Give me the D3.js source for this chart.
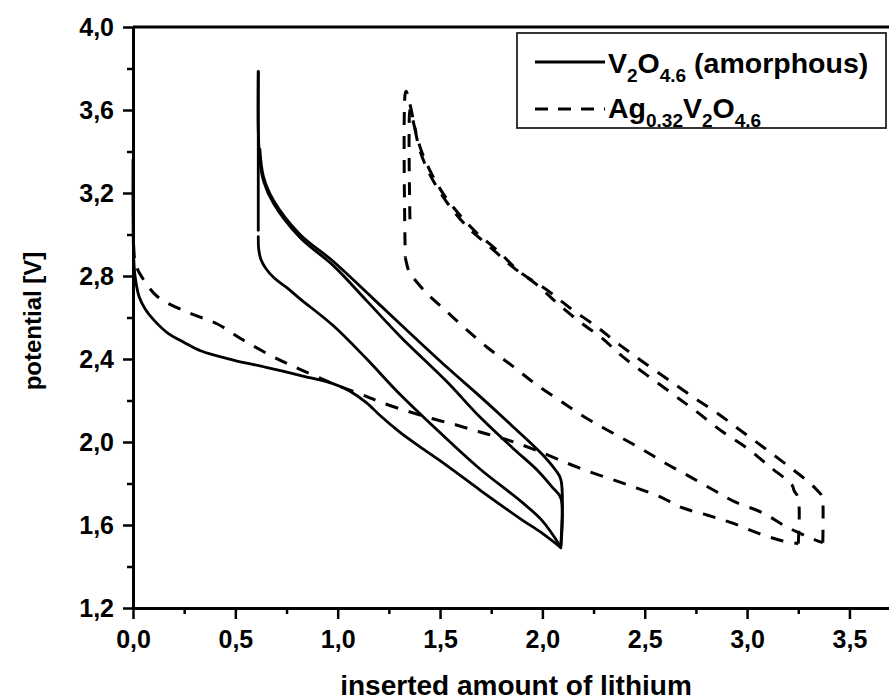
<!DOCTYPE html>
<html><head><meta charset="utf-8">
<script src="https://cdn.jsdelivr.net/npm/d3@7"></script>
<style>
body{margin:0;background:#fff}
svg{display:block}
text{font-family:"Liberation Sans",Arial,Helvetica,sans-serif;font-weight:bold;fill:#000}
</style>
</head><body>
<svg id="chart" width="889" height="700"></svg>
<script>
// ---- data ----
const xTicks = [0, 0.5, 1.0, 1.5, 2.0, 2.5, 3.0, 3.5];
const xMinorTicks = [0.25, 0.75, 1.25, 1.75, 2.25, 2.75, 3.25, 3.75];
const yTicks = [1.2, 1.6, 2.0, 2.4, 2.8, 3.2, 3.6, 4.0];
const yMinorTicks = [1.4, 1.8, 2.2, 2.6, 3.0, 3.4, 3.8];
const xLabel = "inserted amount of lithium";
const yLabel = "potential [V]";

// V2O4.6 (amorphous) — solid
const v2oFirstDischarge = [[0,3.36],[0,3.1],[0.003,2.9],[0.01,2.8],[0.03,2.70],[0.06,2.64],[0.1,2.59],[0.17,2.525],[0.25,2.48],[0.33,2.44],[0.49,2.395],[0.65,2.36],[0.82,2.32],[0.98,2.28],[1.06,2.245],[1.14,2.19],[1.21,2.125],[1.30,2.05],[1.39,1.985],[1.5,1.91],[1.7,1.765],[1.9,1.625],[2.0,1.56],[2.086,1.495]];
const v2oChargeLower = [[2.09,1.49],[2.09,1.73],[2.05,1.78],[1.974,1.865],[1.856,1.97],[1.695,2.12],[1.534,2.29],[1.304,2.51],[1.142,2.68],[0.979,2.85],[0.816,2.985],[0.686,3.15],[0.637,3.26],[0.62,3.36],[0.612,3.5],[0.612,3.785]];
const v2oVertical = [[0.612,3.785],[0.612,3.02]];
const v2oSecondDischarge = [[0.612,2.99],[0.614,2.93],[0.625,2.88],[0.65,2.835],[0.69,2.79],[0.75,2.745],[0.816,2.69],[0.979,2.56],[1.142,2.40],[1.304,2.23],[1.549,2.0],[1.695,1.87],[1.9,1.71],[2.0,1.62],[2.086,1.50]];
const v2oChargeUpper = [[2.09,1.50],[2.09,1.82],[2.06,1.87],[2.0,1.94],[1.85,2.08],[1.695,2.22],[1.534,2.36],[1.304,2.57],[1.142,2.72],[0.979,2.87],[0.816,3.00],[0.686,3.165],[0.637,3.28],[0.62,3.41]];

// Ag0.32V2O4.6 — dashed
const agFirstDischarge = [[0.003,2.95],[0.008,2.88],[0.015,2.85],[0.034,2.81],[0.12,2.70],[0.28,2.62],[0.41,2.57],[0.54,2.49],[0.686,2.41],[0.816,2.35],[0.98,2.28],[1.14,2.22],[1.207,2.193],[1.32,2.155],[1.45,2.116],[1.58,2.082],[1.695,2.048],[1.83,2.01],[1.97,1.96],[2.18,1.875],[2.462,1.778],[2.589,1.730],[2.672,1.687],[2.804,1.648],[2.926,1.610],[3.053,1.561],[3.175,1.523],[3.25,1.51]];
const agChargeLower = [[3.25,1.51],[3.25,1.73],[3.23,1.765],[3.219,1.793],[3.112,1.880],[2.999,1.971],[2.882,2.048],[2.755,2.145],[2.623,2.241],[2.394,2.410],[2.291,2.501],[2.184,2.578],[2.071,2.670],[1.974,2.757],[1.856,2.843],[1.744,2.940],[1.63,3.04],[1.53,3.16],[1.45,3.29],[1.40,3.41],[1.37,3.55],[1.35,3.64],[1.335,3.69],[1.33,3.68],[1.33,2.89]];
const agSecondDischarge = [[1.33,2.89],[1.345,2.83],[1.353,2.813],[1.435,2.717],[1.524,2.636],[1.622,2.548],[1.736,2.452],[1.858,2.363],[1.972,2.275],[2.094,2.194],[2.216,2.114],[2.346,2.042],[2.477,1.971],[2.599,1.899],[2.731,1.827],[2.853,1.759],[2.941,1.711],[3.073,1.660],[3.195,1.590],[3.322,1.533],[3.37,1.515]];
const agChargeUpper = [[3.37,1.515],[3.37,1.72],[3.366,1.74],[3.34,1.77],[3.307,1.802],[3.195,1.889],[3.078,1.976],[2.965,2.058],[2.853,2.140],[2.721,2.227],[2.379,2.467],[2.267,2.554],[2.135,2.646],[2.022,2.733],[1.891,2.819],[1.778,2.925],[1.680,3.007],[1.60,3.09],[1.52,3.19],[1.46,3.29],[1.41,3.40],[1.38,3.50],[1.36,3.58],[1.353,3.60],[1.353,3.07]];

const solidCurves = [v2oFirstDischarge, v2oChargeLower, v2oVertical, v2oSecondDischarge, v2oChargeUpper];
const dashedCurves = [agFirstDischarge, agChargeLower, agSecondDischarge, agChargeUpper];

// ---- drawing ----
const svg = d3.select("#chart");
const x = d3.scaleLinear().domain([0, 3.75]).range([133, 900.6]);
const y = d3.scaleLinear().domain([1.2, 4.0]).range([608, 27]);
const fmt = d => d3.format(".1f")(d).replace(".", ",");

const line = d3.line().x(d => x(d[0])).y(d => y(d[1])).curve(d3.curveCatmullRom.alpha(0.5));

const plot = svg.append("g");
plot.selectAll("path.solid").data(solidCurves).join("path")
  .attr("class","solid").attr("d", line)
  .attr("fill","none").attr("stroke","#000").attr("stroke-width",2.8)
  .attr("stroke-linejoin","round").attr("stroke-linecap","round");
plot.selectAll("path.dashed").data(dashedCurves).join("path")
  .attr("class","dashed").attr("d", line)
  .attr("fill","none").attr("stroke","#000").attr("stroke-width",3)
  .attr("stroke-dasharray","13,11");

// frame top and right
svg.append("line").attr("x1", x(0)).attr("x2", x(3.75)).attr("y1", y(4.0)).attr("y2", y(4.0))
  .attr("stroke","#000").attr("stroke-width",3);
svg.append("line").attr("x1", x(3.75)).attr("x2", x(3.75)).attr("y1", y(4.0)).attr("y2", y(1.2))
  .attr("stroke","#000").attr("stroke-width",3);

// axes
function styleAxis(g){
  g.select(".domain").attr("stroke-width",3);
  g.selectAll(".tick line").attr("stroke-width",2.5);
  g.selectAll(".tick text").style("font-size","25px").style("font-family",'"Liberation Sans",Arial,sans-serif').style("font-weight","bold");
}
const xMinor = svg.append("g").attr("transform",`translate(0,${y(1.2)})`)
  .call(d3.axisBottom(x).tickValues(xMinorTicks).tickSize(6).tickSizeOuter(0).tickFormat(""));
styleAxis(xMinor);
const xAxis = svg.append("g").attr("transform",`translate(0,${y(1.2)})`)
  .call(d3.axisBottom(x).tickValues(xTicks).tickSize(11).tickSizeOuter(0).tickPadding(11).tickFormat(fmt));
styleAxis(xAxis);
const yMinor = svg.append("g").attr("transform",`translate(${x(0)},0)`)
  .call(d3.axisLeft(y).tickValues(yMinorTicks).tickSize(6).tickSizeOuter(0).tickFormat(""));
styleAxis(yMinor);
const yAxis = svg.append("g").attr("transform",`translate(${x(0)},0)`)
  .call(d3.axisLeft(y).tickValues(yTicks).tickSize(10).tickSizeOuter(0).tickPadding(9).tickFormat(fmt));
styleAxis(yAxis);

// axis titles
svg.append("text").attr("x", 516).attr("y", 695).attr("text-anchor","middle")
  .style("font-size","28px").text(xLabel);
svg.append("text").attr("transform","translate(41,321) rotate(-90)").attr("text-anchor","middle")
  .style("font-size","24px").text(yLabel);

// legend
const lg = svg.append("g");
lg.append("rect").attr("x",517).attr("y",33).attr("width",369).attr("height",95)
  .attr("fill","#fff").attr("stroke","#222").attr("stroke-width",1.8);
lg.append("line").attr("x1",535).attr("x2",605).attr("y1",62).attr("y2",62)
  .attr("stroke","#000").attr("stroke-width",3);
lg.append("line").attr("x1",535).attr("x2",605).attr("y1",109).attr("y2",109)
  .attr("stroke","#000").attr("stroke-width",3).attr("stroke-dasharray","13,10");
const legendRows = [
  {y:73, parts:[["V",0],["2",1],["O",0],["4.6",1],[" (amorphous)",0]]},
  {y:118, parts:[["Ag",0],["0.32",1],["V",0],["2",1],["O",0],["4.6",1]]}
];
legendRows.forEach(r => {
  const t = lg.append("text").attr("x",608).attr("y",r.y).style("font-size","28.5px");
  r.parts.forEach((p, i) => {
    const prevSub = i > 0 && r.parts[i-1][1];
    const s = t.append("tspan").text(p[0]);
    if (p[1]) {
      s.style("font-size","19px").attr("dy", prevSub ? 0 : 9);
    } else {
      s.attr("dy", prevSub ? -9 : 0);
    }
  });
});
</script>
</body></html>
